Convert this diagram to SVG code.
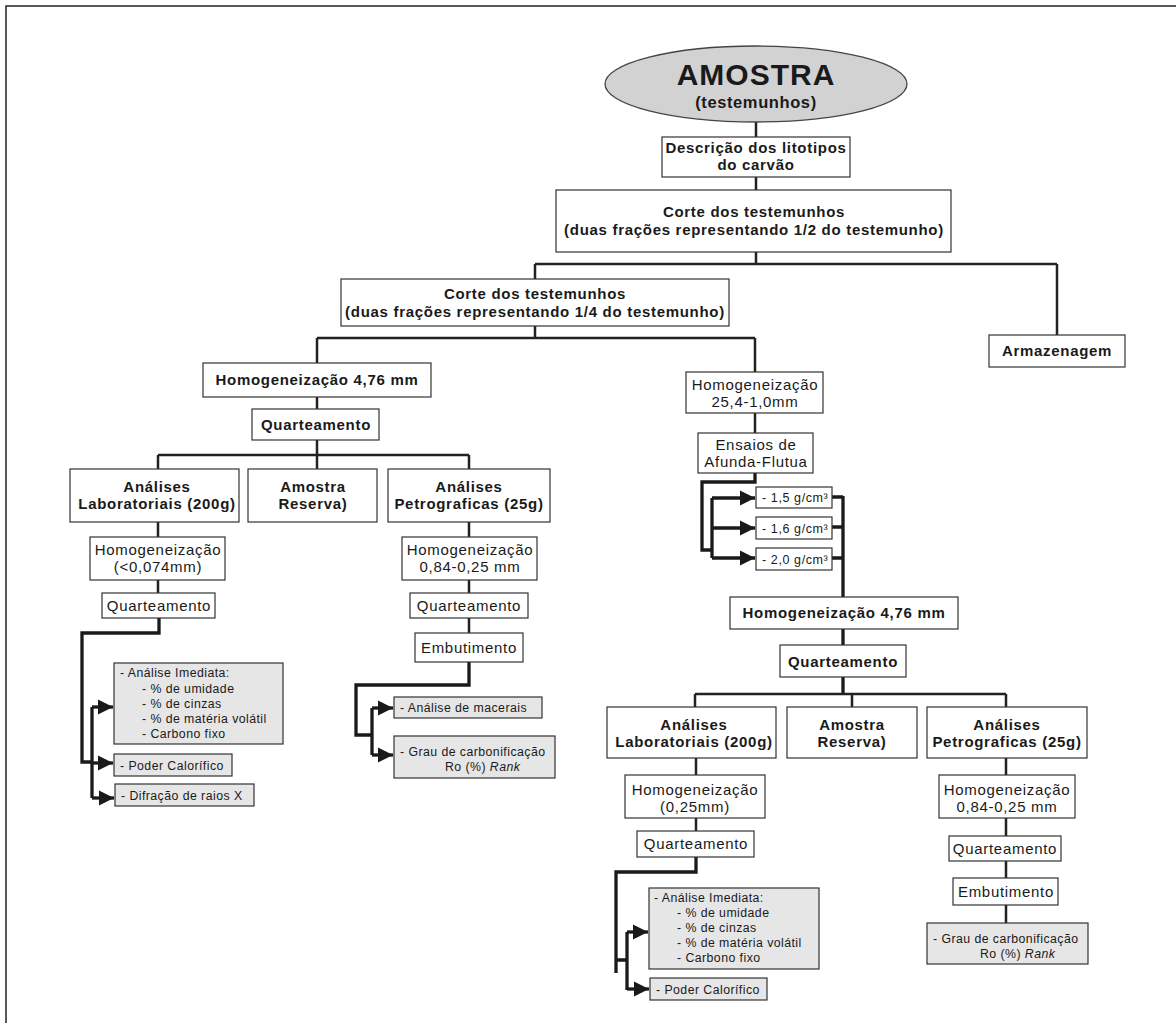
<svg xmlns="http://www.w3.org/2000/svg" width="1176" height="1023" viewBox="0 0 1176 1023">
<style>
.box{fill:#fff;stroke:#333;stroke-width:1.2}
.gbox{fill:#e6e6e6;stroke:#333;stroke-width:1.2}
text{font-family:"Liberation Sans",Arial,sans-serif;fill:#1a1a1a}
.b{font-size:15px;font-weight:bold;letter-spacing:0.7px;text-anchor:middle}
.r{font-size:15px;letter-spacing:0.7px;text-anchor:middle}
.s{font-size:12.3px;letter-spacing:0.45px}
.g{font-size:12.5px;letter-spacing:0.6px}
.c{fill:none;stroke:#222;stroke-width:2.5}
.t{fill:none;stroke:#1a1a1a;stroke-width:3.3}
</style>
<defs>
<marker id="arr" markerUnits="userSpaceOnUse" markerWidth="16" markerHeight="16" refX="15" refY="8" orient="auto">
<path d="M0,0.5 L15,8 L0,15.5 Z" fill="#1a1a1a"/>
</marker>
</defs>
<rect width="1176" height="1023" fill="#fff"/>
<path d="M6,1023 V6 H1176" fill="none" stroke="#222" stroke-width="1.5"/>

<g id="connectors">
<path class="c" d="M756,122 V137 M756,177 V190 M756,252 V264 M535,264 H1057 M535,264 V279 M1057,264 V335"/>
<path class="c" d="M535,326 V338 M317,338 H755 M317,338 V363 M755,338 V372"/>
<path class="c" d="M317,397 V409 M317,440 V455 M158,455 H469 M158,455 V469 M317,455 V469 M469,455 V469"/>
<path class="c" d="M158,522 V537 M158,580 V593 M469,522 V537 M469,580 V593 M469,618 V633"/>
<path class="t" d="M159,618 V633 H82 V762 H92"/>
<path class="t" d="M92,707 V798"/>
<path class="t" d="M92,707 H113" marker-end="url(#arr)"/>
<path class="t" d="M92,763 H113" marker-end="url(#arr)"/>
<path class="t" d="M92,798 H114" marker-end="url(#arr)"/>
<path class="t" d="M469,662 V685 H356 V735 H372"/>
<path class="t" d="M372,708 V755"/>
<path class="t" d="M372,708 H393" marker-end="url(#arr)"/>
<path class="t" d="M372,755 H393" marker-end="url(#arr)"/>
<path class="c" d="M755,413 V433"/>
<path class="t" d="M755,473 V482 H702 V550 H712"/>
<path class="t" d="M712,498 V558"/>
<path class="t" d="M712,498 H755" marker-end="url(#arr)"/>
<path class="t" d="M712,528 H755" marker-end="url(#arr)"/>
<path class="t" d="M712,558 H755" marker-end="url(#arr)"/>
<path class="t" d="M832,497 H843 M832,527 H843 M832,558 H843 M843,496 V597"/>
<path class="t" d="M843,629 V645 M843,677 V694"/>
<path class="c" d="M695,694 H1006 M695,694 V707 M852,694 V707 M1006,694 V707"/>
<path class="c" d="M696,758 V775 M696,818 V831 M1006,758 V775 M1006,818 V836 M1006,861 V878 M1006,905 V923"/>
<path class="t" d="M696,857 V872 H616 V973 M616,960 H627"/>
<path class="t" d="M627,932 V990"/>
<path class="t" d="M627,932 H648" marker-end="url(#arr)"/>
<path class="t" d="M627,989 H649" marker-end="url(#arr)"/>
</g>

<g id="amostra">
<ellipse cx="756" cy="84" rx="151" ry="38" fill="#d2d2d2" stroke="#444" stroke-width="1.3"/>
<text x="756" y="85" text-anchor="middle" font-size="30" font-weight="bold" letter-spacing="1">AMOSTRA</text>
<text x="756" y="108" text-anchor="middle" font-size="16.5" font-weight="bold" letter-spacing="0.6">(testemunhos)</text>
</g>
<g id="descricao">
<rect class="box" x="662" y="137" width="188" height="40"/>
<text class="b" x="756" y="153">Descrição dos litotipos</text>
<text class="b" x="756" y="170">do carvão</text>
</g>
<g id="corte12">
<rect class="box" x="556" y="190" width="395" height="62"/>
<text class="b" x="754" y="217">Corte dos testemunhos</text>
<text class="b" x="754" y="235">(duas frações representando 1/2 do testemunho)</text>
</g>
<g id="armazenagem">
<rect class="box" x="989" y="335" width="136" height="32"/>
<text class="b" x="1057" y="356">Armazenagem</text>
</g>
<g id="corte14">
<rect class="box" x="341" y="279" width="388" height="47"/>
<text class="b" x="535" y="299">Corte dos testemunhos</text>
<text class="b" x="535" y="317">(duas frações representando 1/4 do testemunho)</text>
</g>
<g id="homog476L">
<rect class="box" x="203" y="363" width="228" height="34"/>
<text class="b" x="317" y="385">Homogeneização 4,76 mm</text>
</g>
<g id="quartL">
<rect class="box" x="252" y="409" width="127" height="31"/>
<text class="b" x="316" y="430">Quarteamento</text>
</g>
<g id="labL">
<rect class="box" x="70" y="469" width="169" height="53"/>
<text class="b" x="157" y="492">Análises</text>
<text class="b" x="157" y="509">Laboratoriais (200g)</text>
</g>
<g id="reservaL">
<rect class="box" x="248" y="469" width="129" height="53"/>
<text class="b" x="313" y="492">Amostra</text>
<text class="b" x="313" y="509">Reserva)</text>
</g>
<g id="petroL">
<rect class="box" x="388" y="469" width="162" height="53"/>
<text class="b" x="469" y="492">Análises</text>
<text class="b" x="469" y="509">Petrograficas (25g)</text>
</g>
<g id="homog074">
<rect class="box" x="90" y="537" width="135" height="43"/>
<text class="r" x="158" y="555">Homogeneização</text>
<text class="r" x="158" y="572">(&lt;0,074mm)</text>
</g>
<g id="homog084L">
<rect class="box" x="402" y="537" width="135" height="43"/>
<text class="r" x="470" y="555">Homogeneização</text>
<text class="r" x="470" y="572">0,84-0,25 mm</text>
</g>
<g id="quartL2">
<rect class="box" x="102" y="593" width="113" height="25"/>
<text class="r" x="159" y="611">Quarteamento</text>
</g>
<g id="quartL3">
<rect class="box" x="410" y="593" width="118" height="25"/>
<text class="r" x="469" y="611">Quarteamento</text>
</g>
<g id="embutL">
<rect class="box" x="415" y="633" width="108" height="29"/>
<text class="r" x="469" y="653">Embutimento</text>
</g>
<g id="imediataL">
<rect class="gbox" x="114" y="663" width="169" height="81"/>
<text class="s" x="120" y="677">- Análise Imediata:</text>
<text class="s" x="142" y="693">- % de umidade</text>
<text class="s" x="142" y="708">- % de cinzas</text>
<text class="s" x="142" y="723">- % de matéria volátil</text>
<text class="s" x="142" y="738">- Carbono fixo</text>
</g>
<g id="poderL">
<rect class="gbox" x="114" y="754" width="118" height="22"/>
<text class="s" x="120" y="770">- Poder Calorífico</text>
</g>
<g id="difracao">
<rect class="gbox" x="115" y="784" width="139" height="22"/>
<text class="s" x="121" y="800">- Difração de raios X</text>
</g>
<g id="macerais">
<rect class="gbox" x="394" y="697" width="148" height="21"/>
<text class="s" x="400" y="712">- Análise de macerais</text>
</g>
<g id="grauL">
<rect class="gbox" x="394" y="736" width="161" height="42"/>
<text class="s" x="400" y="756">- Grau de carbonificação</text>
<text class="s" x="445" y="771">Ro (%) <tspan font-style="italic">Rank</tspan></text>
</g>
<g id="homog254">
<rect class="box" x="686" y="372" width="137" height="41"/>
<text class="r" x="755" y="390">Homogeneização</text>
<text class="r" x="755" y="407">25,4-1,0mm</text>
</g>
<g id="ensaios">
<rect class="box" x="698" y="433" width="115" height="40"/>
<text class="r" x="756" y="450">Ensaios de</text>
<text class="r" x="756" y="467">Afunda-Flutua</text>
</g>
<g id="d15">
<rect class="box" x="756" y="487" width="76" height="21"/>
<text class="g" x="762" y="502">- 1,5 g/cm³</text>
</g>
<g id="d16">
<rect class="box" x="756" y="517" width="76" height="22"/>
<text class="g" x="762" y="533">- 1,6 g/cm³</text>
</g>
<g id="d20">
<rect class="box" x="756" y="548" width="76" height="22"/>
<text class="g" x="762" y="564">- 2,0 g/cm³</text>
</g>
<g id="homog476R">
<rect class="box" x="730" y="597" width="228" height="32"/>
<text class="b" x="844" y="618">Homogeneização 4,76 mm</text>
</g>
<g id="quartR">
<rect class="box" x="780" y="645" width="126" height="32"/>
<text class="b" x="843" y="667">Quarteamento</text>
</g>
<g id="labR">
<rect class="box" x="607" y="707" width="169" height="51"/>
<text class="b" x="694" y="730">Análises</text>
<text class="b" x="694" y="747">Laboratoriais (200g)</text>
</g>
<g id="reservaR">
<rect class="box" x="787" y="707" width="130" height="51"/>
<text class="b" x="852" y="730">Amostra</text>
<text class="b" x="852" y="747">Reserva)</text>
</g>
<g id="petroR">
<rect class="box" x="927" y="707" width="160" height="51"/>
<text class="b" x="1007" y="730">Análises</text>
<text class="b" x="1007" y="747">Petrograficas (25g)</text>
</g>
<g id="homog025">
<rect class="box" x="625" y="775" width="140" height="43"/>
<text class="r" x="695" y="795">Homogeneização</text>
<text class="r" x="695" y="812">(0,25mm)</text>
</g>
<g id="homog084R">
<rect class="box" x="939" y="775" width="136" height="43"/>
<text class="r" x="1007" y="795">Homogeneização</text>
<text class="r" x="1007" y="812">0,84-0,25 mm</text>
</g>
<g id="quartR2">
<rect class="box" x="637" y="831" width="117" height="26"/>
<text class="r" x="696" y="849">Quarteamento</text>
</g>
<g id="quartR3">
<rect class="box" x="949" y="836" width="112" height="25"/>
<text class="r" x="1005" y="854">Quarteamento</text>
</g>
<g id="embutR">
<rect class="box" x="953" y="878" width="105" height="27"/>
<text class="r" x="1006" y="897">Embutimento</text>
</g>
<g id="imediataR">
<rect class="gbox" x="649" y="888" width="170" height="81"/>
<text class="s" x="654" y="902">- Análise Imediata:</text>
<text class="s" x="677" y="917">- % de umidade</text>
<text class="s" x="677" y="932">- % de cinzas</text>
<text class="s" x="677" y="947">- % de matéria volátil</text>
<text class="s" x="677" y="962">- Carbono fixo</text>
</g>
<g id="poderR">
<rect class="gbox" x="650" y="978" width="117" height="22"/>
<text class="s" x="656" y="994">- Poder Calorífico</text>
</g>
<g id="grauR">
<rect class="gbox" x="927" y="923" width="161" height="41"/>
<text class="s" x="933" y="943">- Grau de carbonificação</text>
<text class="s" x="980" y="958">Ro (%) <tspan font-style="italic">Rank</tspan></text>
</g>
</svg>
